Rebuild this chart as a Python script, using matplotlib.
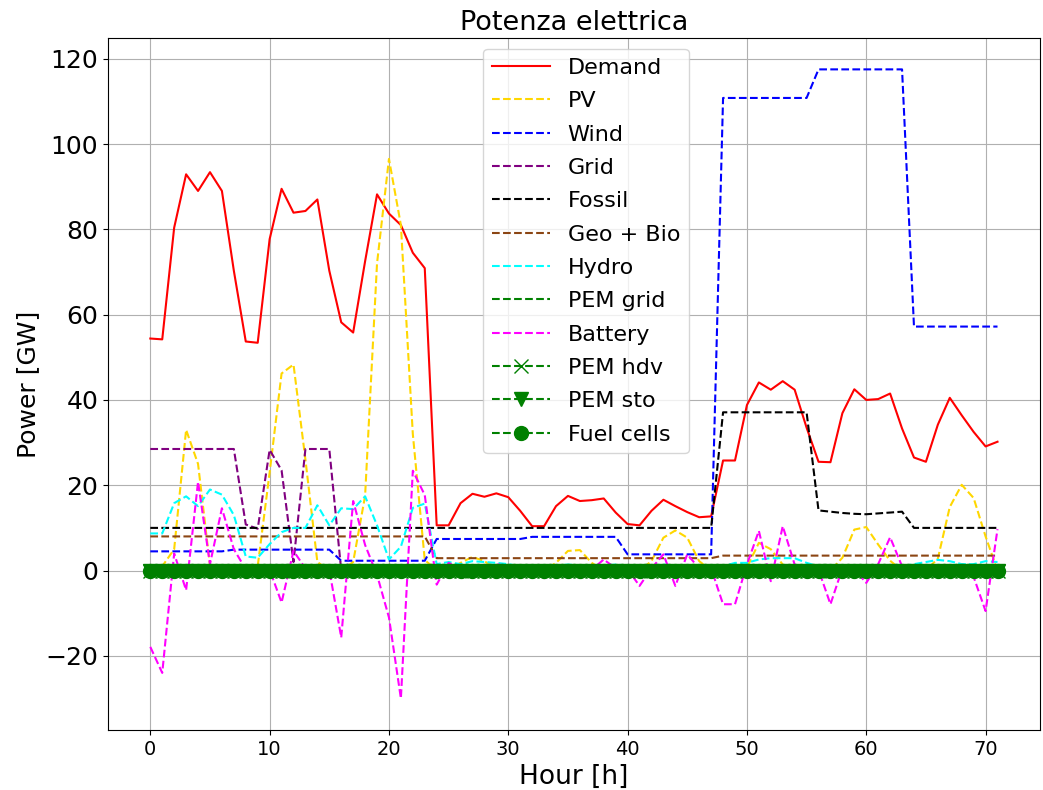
import numpy as np
import matplotlib
matplotlib.use("Agg")
import matplotlib.pyplot as plt

hours = np.arange(72)

demand = [54.4, 54.2, 80.4, 92.9, 89.0, 93.4, 89.0, 70.3, 53.7, 53.4, 77.7, 89.5,
          83.9, 84.3, 87.0, 70.3, 58.2, 55.8, 72.5, 88.2, 83.7, 81.0, 74.5, 70.9,
          10.6, 10.6, 15.8, 18.0, 17.3, 18.1, 17.2, 14.0, 10.4, 10.4, 15.1, 17.5,
          16.3, 16.5, 16.9, 13.6, 10.9, 10.6, 14.0, 16.6, 15.1, 13.7, 12.5, 12.7,
          25.8, 25.8, 38.8, 44.1, 42.4, 44.4, 42.4, 33.5, 25.5, 25.4, 36.9, 42.5,
          40.0, 40.2, 41.5, 33.3, 26.5, 25.5, 34.2, 40.5, 36.4, 32.5, 29.1, 30.2]

pv = [0.0, 1.0, 5.0, 33.0, 25.0, 1.2, 0.0, 0.0, 0.0, 1.0, 23.0, 46.2,
      48.3, 26.0, 2.0, 0.0, 0.0, 2.0, 17.5, 72.0, 96.5, 81.0, 32.0, 2.5,
      0.0, 0.3, 1.8, 3.2, 2.2, 0.3, 0.0, 0.0, 0.0, 0.0, 1.8, 4.6,
      4.8, 1.8, 0.0, 0.0, 0.0, 0.0, 2.2, 7.7, 9.4, 7.7, 2.2, 0.0,
      0.0, 0.2, 0.7, 6.5, 5.0, 1.4, 0.0, 0.0, 0.0, 0.0, 3.0, 9.6,
      10.2, 6.1, 2.3, 0.0, 0.0, 0.0, 2.8, 14.9, 20.1, 17.0, 8.0, 0.0]

wind = [4.5] * 7 + [4.9] * 9 + [2.3] * 8 + [7.4] * 8 + [7.9] * 8 + [3.8] * 8 \
    + [110.8] * 8 + [117.5] * 8 + [57.2] * 8

grid = [28.5] * 8 + [10.8, 9.8, 28.3, 23.5, 2.0] + [28.5] * 3 + [0.0] * 56

fossil = [10.0] * 48 + [37.1] * 8 + [14.1, 13.8, 13.5, 13.3, 13.2, 13.4, 13.6, 13.8] \
    + [10.0] * 8

geo_bio = [8.0] * 24 + [2.9] * 24 + [3.5] * 24

hydro = [8.7, 8.7, 15.8, 17.4, 15.1, 19.0, 17.8, 13.0, 3.3, 3.0, 6.2, 9.0,
         10.0, 10.0, 15.3, 10.6, 14.6, 14.4, 17.4, 10.6, 2.6, 5.6, 14.7, 15.7,
         1.5, 2.0, 1.5, 2.2, 2.0, 1.8, 1.5, 1.0, 1.2, 1.0, 1.2, 1.4,
         1.2, 1.0, 1.2, 1.4, 1.2, 1.0, 1.2, 1.4, 1.2, 1.0, 1.2, 1.0,
         1.0, 1.8, 1.8, 2.6, 2.9, 2.9, 2.9, 1.8, 1.0, 1.0, 1.0, 1.0,
         1.0, 1.0, 1.0, 1.0, 1.5, 2.0, 2.5, 2.2, 1.5, 1.5, 2.2, 2.0]

battery = [-17.9, -24.0, 4.0, -4.6, 20.8, 1.5, 14.6, 5.0, 0.3, 0.0, 0.2, -7.5,
           4.6, 0.5, 0.8, 0.2, -15.7, 16.3, 6.0, -1.0, -11.0, -30.0, 23.4, 17.7,
           -3.3, 1.8, 0.5, 0.8, 0.5, 1.5, 1.0, 0.3, 0.5, -1.8, 0.5, 0.3,
           1.0, 0.2, 2.6, 0.5, 0.3, -3.6, 0.5, 3.8, -3.6, 3.8, 0.5, 0.5,
           -7.9, -7.9, 1.4, 9.3, -2.5, 10.4, 1.4, 0.5, 0.2, -7.9, 0.5, 0.3,
           -2.9, 1.5, 7.8, 1.0, 0.3, 0.2, 0.3, 0.5, 0.3, -1.5, -9.5, 9.7]

pem_grid = [0.0] * 72
pem_hdv = [0.0] * 72
pem_sto = [0.0] * 72
fuel_cells = [0.0] * 72

fig = plt.figure(figsize=(10.43, 7.90), dpi=100)
ax = fig.add_axes([0.1035, 0.076, 0.8935, 0.876])

ax.plot(hours, demand, color="red", linestyle="-", label="Demand")
ax.plot(hours, pv, color="gold", linestyle="--", label="PV")
ax.plot(hours, wind, color="blue", linestyle="--", label="Wind")
ax.plot(hours, grid, color="purple", linestyle="--", label="Grid")
ax.plot(hours, fossil, color="black", linestyle="--", label="Fossil")
ax.plot(hours, geo_bio, color="saddlebrown", linestyle="--", label="Geo + Bio")
ax.plot(hours, hydro, color="cyan", linestyle="--", label="Hydro")
ax.plot(hours, pem_grid, color="green", linestyle="--", label="PEM grid")
ax.plot(hours, battery, color="magenta", linestyle="--", label="Battery")
ax.plot(hours, pem_hdv, color="green", linestyle="--", marker="x", markersize=10,
        label="PEM hdv")
ax.plot(hours, pem_sto, color="green", linestyle="--", marker="v", markersize=10,
        label="PEM sto")
ax.plot(hours, fuel_cells, color="green", linestyle="--", marker="o", markersize=10,
        label="Fuel cells")

ax.set_title("Potenza elettrica", fontsize=19.5)
ax.set_xlabel("Hour [h]", fontsize=19)
ax.set_ylabel("Power [GW]", fontsize=18)
ax.tick_params(axis="y", labelsize=18)
ax.tick_params(axis="x", labelsize=14)
ax.grid(True)
ax.legend(loc="upper center", bbox_to_anchor=(0.513, 1.0), fontsize=16,
          labelspacing=0.6, handlelength=2.6)

fig.savefig("out.png", dpi=100)
